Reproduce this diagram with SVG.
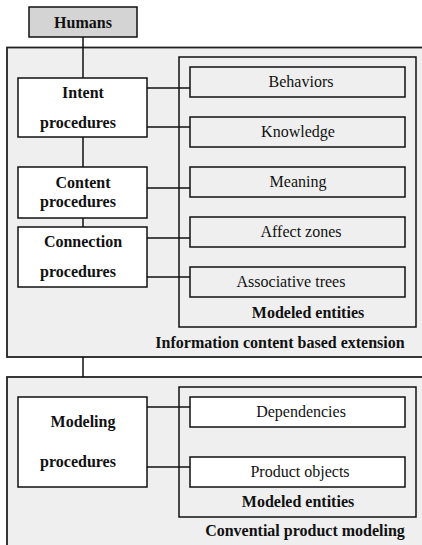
<svg xmlns="http://www.w3.org/2000/svg" width="422" height="545" viewBox="0 0 422 545">
  <style>
    .panel { fill: #efefef; stroke: #222; stroke-width: 1.8; }
    .group { fill: #efefef; stroke: #111; stroke-width: 1.5; }
    .proc { fill: #ffffff; stroke: #111; stroke-width: 1.5; }
    .ent { fill: #efefef; stroke: #111; stroke-width: 1.5; }
    .ent-w { fill: #ffffff; stroke: #111; stroke-width: 1.5; }
    .top { fill: #d4d4d4; stroke: #111; stroke-width: 1.5; }
    .wire { stroke: #111; stroke-width: 1.5; fill: none; }
    .t { font-size: 16px; fill: #111; text-anchor: middle; }
    .b { font-weight: bold; }
  </style>

  <!-- panels -->
  <rect class="panel" x="7" y="47.5" width="430" height="309.5"/>
  <rect class="panel" x="7" y="377" width="430" height="200"/>
  <rect class="group" x="179" y="57" width="237" height="270"/>
  <rect class="group" x="179" y="387" width="237" height="130"/>

  <!-- connectors -->
  <g id="connectors">
    <line class="wire" x1="83" y1="37" x2="83" y2="78"/>
    <line class="wire" x1="83" y1="137" x2="83" y2="167"/>
    <line class="wire" x1="83" y1="218" x2="83" y2="227"/>
    <line class="wire" x1="83" y1="357" x2="83" y2="377"/>
    <line class="wire" x1="147" y1="88" x2="190" y2="88"/>
    <line class="wire" x1="147" y1="127" x2="190" y2="127"/>
    <line class="wire" x1="147" y1="188" x2="190" y2="188"/>
    <line class="wire" x1="147" y1="238" x2="190" y2="238"/>
    <line class="wire" x1="147" y1="277" x2="190" y2="277"/>
    <line class="wire" x1="147" y1="407" x2="190" y2="407"/>
    <line class="wire" x1="147" y1="467" x2="190" y2="467"/>
  </g>

  <g font-family="Liberation Serif, Times New Roman, serif">
  <g id="humans">
    <rect class="top" x="29" y="7" width="108" height="30"/>
    <text class="t b" x="83" y="28">Humans</text>
  </g>

  <g id="intent">
    <rect class="proc" x="18" y="78" width="129" height="59"/>
    <text class="t b" x="83" y="98">Intent</text>
    <text class="t b" x="78" y="128">procedures</text>
  </g>

  <g id="content">
    <rect class="proc" x="18" y="167" width="129" height="51"/>
    <text class="t b" x="83" y="188">Content</text>
    <text class="t b" x="78" y="207">procedures</text>
  </g>

  <g id="connection">
    <rect class="proc" x="18" y="227" width="129" height="60"/>
    <text class="t b" x="83" y="247">Connection</text>
    <text class="t b" x="78" y="277">procedures</text>
  </g>

  <g id="modeling">
    <rect class="proc" x="18" y="397" width="129" height="90"/>
    <text class="t b" x="83" y="427">Modeling</text>
    <text class="t b" x="78" y="467">procedures</text>
  </g>

  <g id="behaviors">
    <rect class="ent" x="190" y="67" width="215" height="30"/>
    <text class="t" x="301" y="87">Behaviors</text>
  </g>
  <g id="knowledge">
    <rect class="ent" x="190" y="117" width="215" height="30"/>
    <text class="t" x="298" y="137">Knowledge</text>
  </g>
  <g id="meaning">
    <rect class="ent" x="190" y="167" width="215" height="30"/>
    <text class="t" x="298" y="187">Meaning</text>
  </g>
  <g id="affect-zones">
    <rect class="ent" x="190" y="217" width="215" height="30"/>
    <text class="t" x="301" y="237">Affect zones</text>
  </g>
  <g id="associative-trees">
    <rect class="ent" x="190" y="267" width="215" height="30"/>
    <text class="t" x="291" y="287">Associative trees</text>
  </g>
  <text class="t b" x="308" y="318">Modeled entities</text>
  <text class="t b" x="280" y="348">Information content based extension</text>

  <g id="dependencies">
    <rect class="ent-w" x="190" y="397" width="215" height="30"/>
    <text class="t" x="301" y="417">Dependencies</text>
  </g>
  <g id="product-objects">
    <rect class="ent-w" x="190" y="457" width="215" height="30"/>
    <text class="t" x="300" y="477">Product objects</text>
  </g>
  <text class="t b" x="298" y="507">Modeled entities</text>
  <text class="t b" x="305" y="536">Convential product modeling</text>
  </g>
</svg>
